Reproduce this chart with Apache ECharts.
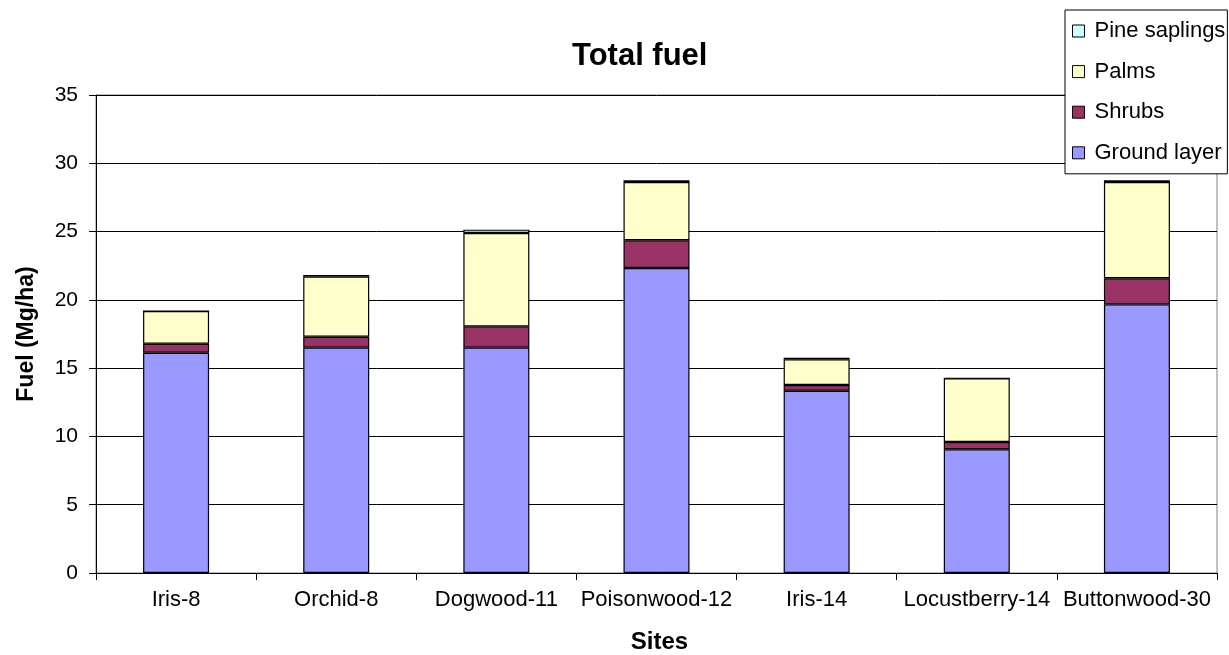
<!DOCTYPE html>
<html>
<head>
<meta charset="utf-8">
<script src="https://cdn.jsdelivr.net/npm/echarts@6/dist/echarts.min.js"></script>
<style>
  html, body { margin: 0; padding: 0; background: #fff; }
  #chart { width: 1229px; height: 655px; }
</style>
</head>
<body>
<div id="chart"></div>
<script>
// Sites along the x axis
const sites = ['Iris-8', 'Orchid-8', 'Dogwood-11', 'Poisonwood-12', 'Iris-14', 'Locustberry-14', 'Buttonwood-30'];

// Fuel load per component, Mg/ha (stacked bottom to top)
const groundLayer   = [16.13, 16.50, 16.50, 22.33, 13.35, 9.06, 19.67];
const shrubs        = [0.66, 0.80, 1.56, 2.03, 0.42, 0.53, 1.91];
const palms         = [2.39, 4.40, 6.84, 4.27, 1.88, 4.67, 7.05];
const pineSaplings  = [0, 0.12, 0.24, 0.12, 0.12, 0, 0.12];

// Y axis ticks
const yTicks = [0, 5, 10, 15, 20, 25, 30, 35];

const FONT = '"Liberation Sans", Arial, sans-serif';

const chart = echarts.init(document.getElementById('chart'), null, { renderer: 'canvas' });

function barSeries(name, data, color) {
  return {
    name: name,
    type: 'bar',
    stack: 'fuel',
    data: data,
    barWidth: 66,
    itemStyle: { color: color, borderColor: '#000', borderWidth: 1.2 },
    emphasis: { disabled: true },
    animation: false
  };
}

chart.setOption({
  animation: false,
  backgroundColor: '#fff',
  textStyle: { fontFamily: FONT, color: '#000' },
  title: {
    text: 'Total fuel',
    left: 572,
    top: 41,
    padding: 0,
    textStyle: { fontFamily: FONT, fontSize: 31, fontWeight: 'bold', color: '#000' }
  },
  legend: {
    orient: 'vertical',
    left: 1065,
    top: 10,
    data: ['Pine saplings', 'Palms', 'Shrubs', 'Ground layer'],
    icon: 'rect',
    itemWidth: 12,
    itemHeight: 12,
    itemGap: 18.6,
    padding: [10, 2, 10, 7],
    backgroundColor: '#fff',
    borderColor: '#000',
    borderWidth: 1,
    borderRadius: 0,
    selectedMode: false,
    itemStyle: { borderColor: '#000', borderWidth: 1 },
    textStyle: { fontFamily: FONT, fontSize: 22, color: '#000', lineHeight: 22, padding: [0, 0, 0, 5] }
  },
  grid: {
    left: 96,
    right: 12,
    top: 95,
    bottom: 82,
    outerBoundsMode: 'none',
    containLabel: false,
    show: true,
    borderColor: '#808080',
    borderWidth: 1,
    backgroundColor: 'transparent'
  },
  xAxis: {
    type: 'category',
    data: sites,
    boundaryGap: true,
    name: 'Sites',
    nameLocation: 'middle',
    nameGap: 57,
    nameTextStyle: { fontFamily: FONT, fontSize: 24, fontWeight: 'bold', color: '#000', padding: [0, 0, 0, 6] },
    axisLine: { show: true, lineStyle: { color: '#000', width: 1 } },
    axisTick: { show: true, length: 7, alignWithLabel: false, lineStyle: { color: '#000' } },
    axisLabel: { fontFamily: FONT, fontSize: 22, color: '#000', margin: 16, interval: 0 },
    splitLine: { show: false }
  },
  yAxis: {
    type: 'value',
    min: yTicks[0],
    max: yTicks[yTicks.length - 1],
    interval: yTicks[1] - yTicks[0],
    name: 'Fuel (Mg/ha)',
    nameLocation: 'middle',
    nameGap: 58,
    nameTextStyle: { fontFamily: FONT, fontSize: 23, fontWeight: 'bold', color: '#000' },
    axisLine: { show: true, lineStyle: { color: '#000', width: 1 } },
    axisTick: { show: true, length: 7, lineStyle: { color: '#000' } },
    axisLabel: { fontFamily: FONT, fontSize: 21, color: '#000', margin: 18 },
    splitLine: { show: true, lineStyle: { color: '#000', width: 1 } }
  },
  series: [
    barSeries('Ground layer', groundLayer, '#9999FF'),
    barSeries('Shrubs', shrubs, '#993366'),
    barSeries('Palms', palms, '#FFFFCC'),
    barSeries('Pine saplings', pineSaplings, '#CCFFFF')
  ]
});
</script>
</body>
</html>
